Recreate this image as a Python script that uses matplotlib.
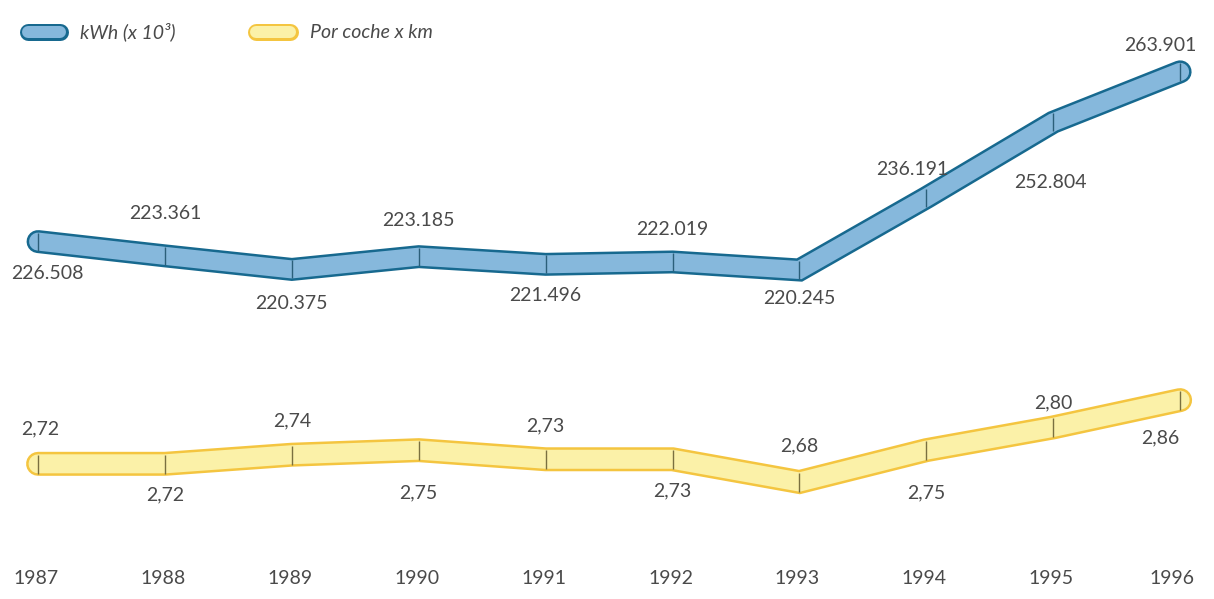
import numpy as np
import matplotlib
matplotlib.use("Agg")
import matplotlib.pyplot as plt
from matplotlib.lines import Line2D

# Datos
years = [1987, 1988, 1989, 1990, 1991, 1992, 1993, 1994, 1995, 1996]
kwh = [226.508, 223.361, 220.375, 223.185, 221.496, 222.019, 220.245, 236.191, 252.804, 263.901]
kwh_labels = ["226.508", "223.361", "220.375", "223.185", "221.496",
              "222.019", "220.245", "236.191", "252.804", "263.901"]
coche_km = [2.72, 2.72, 2.74, 2.75, 2.73, 2.73, 2.68, 2.75, 2.80, 2.86]
coche_labels = ["2,72", "2,72", "2,74", "2,75", "2,73", "2,73", "2,68", "2,75", "2,80", "2,86"]

# desplazamiento de etiquetas (px): (dx, dy)
kwh_off = [(9, -32), (0, 42), (0, -34), (0, 36), (0, -31), (0, 32), (0, -28), (-14, 28), (-3, -60), (-20, 26)]
coche_off = [(2, 35), (0, -31), (0, 34), (0, -43), (0, 33), (0, -32), (0, 36), (0, -43), (0, 25), (-20, -38)]

plt.rcParams['font.family'] = ['Lato', 'DejaVu Sans']
text_col = '#4a4a4a'

fig = plt.figure(figsize=(12.14, 5.99), dpi=100)
ax1 = fig.add_axes([0, 0, 1, 1])
ax2 = fig.add_axes([0, 0, 1, 1])
for ax in (ax1, ax2):
    ax.set_xlim(1986.70, 1996.267)
    ax.axis('off')
    ax.patch.set_alpha(0)
ax1.set_ylim(147.78, 279.72)
ax2.set_ylim(2.423, 3.739)

px = 72 / 100  # pixels to points


def tube(ax, x, y, edge, fill, width, sep):
    ax.plot(x, y, color=edge, lw=width * px, solid_capstyle='round', solid_joinstyle='miter', zorder=2)
    ax.plot(x, y, color=fill, lw=(width - 5) * px, solid_capstyle='round', solid_joinstyle='miter', zorder=3)
    ax.plot(x, y, ls='none', marker='|', ms=(width - 5) * px, mew=1.0, color=sep, zorder=4)


tube(ax1, years, kwh, '#17698f', '#86b8dc', 23, '#2b5f7a')
tube(ax2, years, coche_km, '#f4c540', '#fbf1a8', 24, '#7a7040')

for x, y, lab, (dx, dy) in zip(years, kwh, kwh_labels, kwh_off):
    ax1.annotate(lab, (x, y), xytext=(dx * px, dy * px), textcoords='offset points',
                 ha='center', va='center', fontsize=14, color=text_col)
for x, y, lab, (dx, dy) in zip(years, coche_km, coche_labels, coche_off):
    ax2.annotate(lab, (x, y), xytext=(dx * px, dy * px), textcoords='offset points',
                 ha='center', va='center', fontsize=14, color=text_col)

# años
for yr in years:
    ax2.annotate(str(yr), (yr, 2.423), xytext=(-2 * px - (6 * px if yr == 1996 else 0), 21 * px),
                 textcoords='offset points', ha='center', va='center', fontsize=14, color=text_col)

# leyenda
H = 599.0
W = 1214.0
for (x0, x1, edge, fill, lab, tx) in [(28, 60, '#17698f', '#86b8dc', 'kWh (x 10³)', 80),
                                      (256, 290, '#f4c540', '#fbf1a8', 'Por coche x km', 310)]:
    yy = 1 - 32 / H
    fig.add_artist(Line2D([x0 / W, x1 / W], [yy, yy], color=edge, lw=17 * px,
                          solid_capstyle='round', transform=fig.transFigure))
    fig.add_artist(Line2D([x0 / W, x1 / W], [yy, yy], color=fill, lw=12 * px,
                          solid_capstyle='round', transform=fig.transFigure))
    fig.text(tx / W, yy, lab, fontsize=14, style='italic', color=text_col, va='center', ha='left')

fig.savefig('out.png', dpi=100, facecolor='white')
